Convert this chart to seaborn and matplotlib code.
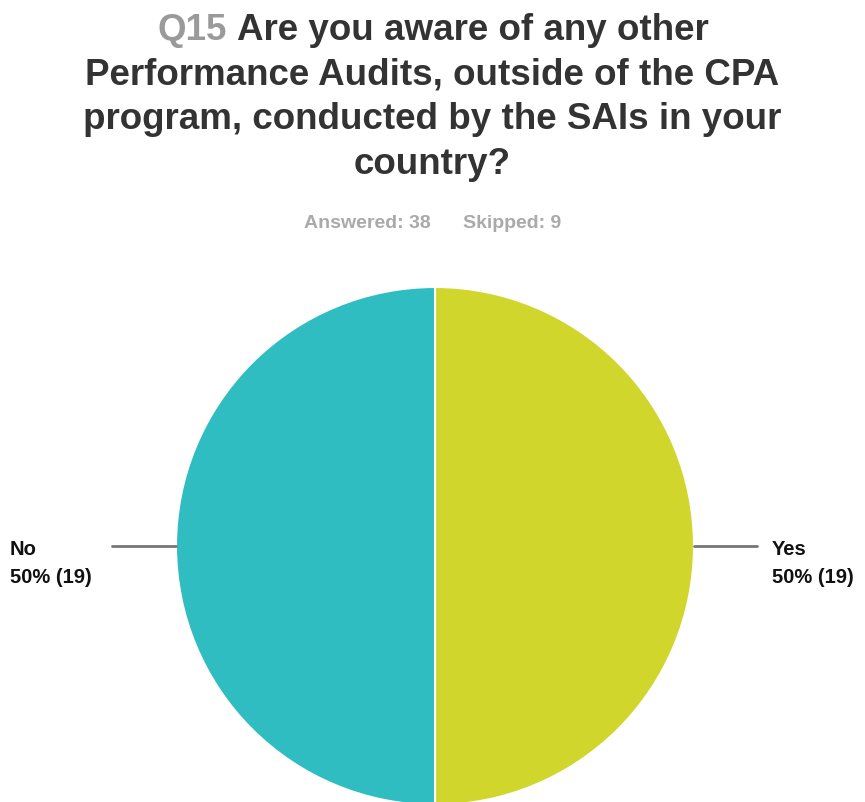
import matplotlib
matplotlib.use('Agg')
import matplotlib.pyplot as plt
import seaborn as sns

# survey answers
answers = ['Yes', 'No']
counts = [19, 19]
skipped = 9
colors = ['#D0D62B', '#30BDC1']

title_num = 'Q15'
title_lines = ['Are you aware of any other',
               'Performance Audits, outside of the CPA',
               'program, conducted by the SAIs in your',
               'country?']

sns.set_theme(style='white')
plt.rcParams['font.family'] = ['Liberation Sans', 'DejaVu Sans']

W, H = 865, 803
fig = plt.figure(figsize=(W / 100, H / 100), dpi=100)
ax = fig.add_axes([0, 0, 1, 1])

cx, cy, r = 435, H - 547, 259
ax.pie(counts, colors=colors, startangle=90, counterclock=False,
       center=(cx, cy), radius=r,
       wedgeprops=dict(edgecolor='white', linewidth=1.5))
ax.set_xlim(0, W)
ax.set_ylim(0, H)
ax.set_aspect('equal')
ax.axis('off')

# labels with leader lines
total = sum(counts)
for name, n in zip(answers, counts):
    pct = round(100 * n / total)
    if name == 'Yes':
        ax.plot([cx + r, cx + r + 63], [cy, cy], color='#777777', lw=2)
        lx = cx + r + 78
    else:
        ax.plot([cx - r, cx - r - 64], [cy, cy], color='#777777', lw=2)
        lx = 10
    ax.text(lx, cy - 8, name, ha='left', va='baseline', fontsize=14.5,
            fontweight='bold', color='#111111')
    ax.text(lx, cy - 36, f'{pct}% ({n})', ha='left', va='baseline',
            fontsize=14.5, fontweight='bold', color='#111111')

# title, first line has the grey question number
fig.canvas.draw()
rend = fig.canvas.get_renderer()
tsize = 26.5
ys = [40, 85, 129, 174]
first = title_num + ' ' + title_lines[0]
probe = fig.text(0, 0, first, fontsize=tsize, fontweight='bold')
wfull = probe.get_window_extent(rend).width
probe.set_text(title_num + ' ')
wnum = probe.get_window_extent(rend).width
probe.remove()
x0 = W / 2 - wfull / 2
fig.text(x0 / W, 1 - ys[0] / H, title_num, fontsize=tsize, fontweight='bold',
         color='#9a9a9a', ha='left', va='baseline')
fig.text((x0 + wnum) / W, 1 - ys[0] / H, title_lines[0], fontsize=tsize,
         fontweight='bold', color='#333333', ha='left', va='baseline')
for line, y in zip(title_lines[1:], ys[1:]):
    fig.text(0.5, 1 - y / H, line, fontsize=tsize, fontweight='bold',
             color='#333333', ha='center', va='baseline')

fig.text(0.5, 1 - 228 / H, f'Answered: {total}      Skipped: {skipped}',
         fontsize=14, fontweight='bold', color='#aaaaaa', ha='center', va='baseline')

fig.savefig('out.png', dpi=100)
